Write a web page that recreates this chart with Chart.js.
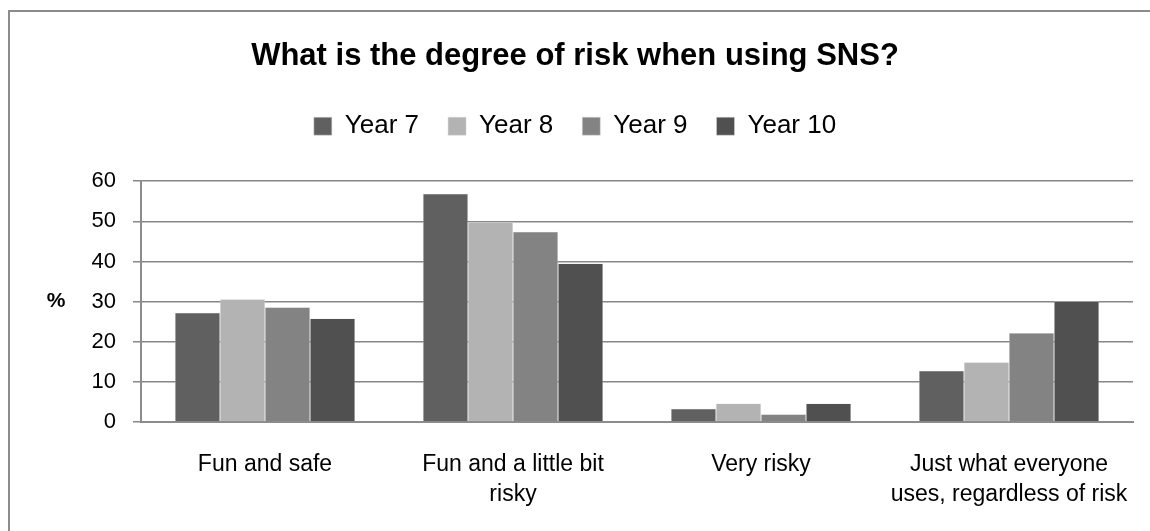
<!DOCTYPE html>
<html>
<head>
<meta charset="utf-8">
<script src="https://cdn.jsdelivr.net/npm/chart.js@4/dist/chart.umd.min.js"></script>
<style>
    html, body { margin: 0; padding: 0; background: #fff; overflow: hidden; }
    #frame { position: absolute; left: 8px; top: 10px; width: 1200px; height: 600px; border-left: 2px solid #8c8c8c; border-top: 2px solid #8c8c8c; }
    #chart { position: absolute; left: 0; top: 0; display: block; }
</style>
</head>
<body>
<div id="frame"></div>
<canvas id="chart" width="1150" height="531"></canvas>
<script>
// datos
const categories = ['Fun and safe', ['Fun and a little bit', 'risky'], 'Very risky', ['Just what everyone', 'uses, regardless of risk']];
const seriesNames = ['Year 7', 'Year 8', 'Year 9', 'Year 10'];
const year7 = [27.2, 56.9, 3.3, 12.8];
const year8 = [30.6, 49.8, 4.6, 14.9];
const year9 = [28.6, 47.4, 1.9, 22.2];
const year10 = [25.8, 39.5, 4.6, 30.0];
const yTicks = [0, 10, 20, 30, 40, 50, 60];

const colors = ['#606060', '#b3b3b3', '#838383', '#505050'];
const font = '"Liberation Sans", Arial, sans-serif';

// "%" horizontal a la izquierda del eje
const percentLabel = {
    id: 'percentLabel',
    afterDraw(chart) {
        const { ctx, chartArea } = chart;
        ctx.save();
        ctx.font = `bold 21px ${font}`;
        ctx.fillStyle = '#000';
        ctx.textAlign = 'center';
        ctx.textBaseline = 'middle';
        ctx.fillText('%', 56, (chartArea.top + chartArea.bottom) / 2);
        ctx.restore();
    }
};

// mas espacio debajo de la leyenda
const legendGap = {
    id: 'legendGap',
    afterInit(chart) {
        if (!chart.legend) return;
        const fit = chart.legend.fit;
        chart.legend.fit = function () {
            fit.call(this);
            this.height += 32;
        };
    }
};

new Chart(document.getElementById('chart'), {
    type: 'bar',
    data: {
        labels: categories,
        datasets: [year7, year8, year9, year10].map((d, i) => ({
            label: seriesNames[i],
            data: d,
            backgroundColor: colors[i],
            borderColor: '#d9d9d9',
            borderWidth: 0.5,
            barPercentage: 1,
            categoryPercentage: 0.726
        }))
    },
    options: {
        responsive: false,
        animation: false,
        layout: { padding: { left: 17, right: 17, top: 38, bottom: 21 } },
        plugins: {
            title: {
                display: true,
                text: 'What is the degree of risk when using SNS?',
                color: '#000',
                font: { family: font, size: 31, weight: 'bold', lineHeight: 1.2 },
                padding: { top: 0, bottom: 9 }
            },
            legend: {
                position: 'top',
                labels: {
                    color: '#000',
                    font: { family: font, size: 26 },
                    boxWidth: 18, boxHeight: 18,
                    padding: 29
                }
            },
            tooltip: { enabled: false }
        },
        scales: {
            x: {
                afterFit: (axis) => { axis.height = 88; axis.paddingLeft = 0; axis.paddingRight = 0; },
                grid: { display: false, drawTicks: false },
                border: { color: '#8c8c8c', width: 2 },
                ticks: { color: '#000', font: { family: font, size: 23, lineHeight: 1.3 }, maxRotation: 0, autoSkip: false, padding: 28 }
            },
            y: {
                min: 0, max: 60,
                afterBuildTicks: (axis) => { axis.ticks = yTicks.map(v => ({ value: v })); },
                afterFit: (axis) => { axis.width = 124; },
                grid: { color: '#878787', lineWidth: 1.5, tickLength: 8 },
                border: { color: '#8c8c8c', width: 2 },
                ticks: { color: '#000', font: { family: font, size: 22 }, padding: 17 }
            }
        }
    },
    plugins: [percentLabel, legendGap]
});
</script>
</body>
</html>
